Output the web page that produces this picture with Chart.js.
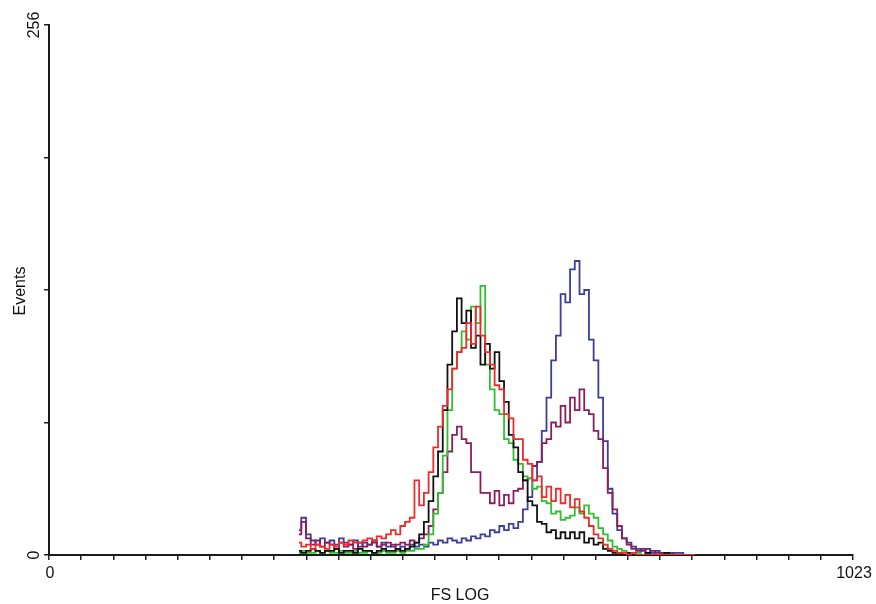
<!DOCTYPE html>
<html>
  <head>
    <title>FS LOG histogram</title>
    <script src="https://cdn.jsdelivr.net/npm/chart.js@4"></script>
    <style>
      body { margin: 0; background: #fff; }
      canvas { display: block; }
    </style>
  </head>
  <body>
    <canvas id="canvas" width="876" height="604"></canvas>
    <script>
      // channel of each bin (FS LOG, 0..1023)
      const channels = [
        318, 324, 330, 336, 342, 348, 354, 360, 366, 372,
        378, 384, 390, 396, 402, 408, 414, 420, 426, 432,
        438, 444, 450, 456, 462, 468, 474, 480, 486, 492,
        498, 504, 510, 516, 522, 528, 534, 540, 546, 552,
        558, 564, 570, 576, 582, 588, 594, 600, 606, 612,
        618, 624, 630, 636, 642, 648, 654, 660, 666, 672,
        678, 684, 690, 696, 702, 708, 714, 720, 726, 732,
        738, 744, 750, 756, 762, 768, 774, 780, 786, 792,
        798, 804, 810, 816, 822
      ];

      const blackEvents = [
        2, 1, 2, 3, 2, 1, 2, 2, 3, 1, 2, 2, 1, 3, 2, 2, 1, 2, 3, 2, 2, 3, 2,
        3, 4, 6, 10, 16, 26, 38, 50, 70, 92,
        108, 124, 112, 118, 100, 106, 92, 102, 90, 98,
        84, 74, 58, 52, 40, 36, 26, 24, 16, 15,
        11, 12, 8, 11, 8, 11, 8, 11, 6, 8,
        5, 6, 3, 2, 1, 1, 0, 1, 0,
        0, 0, 1, 0, 0, 0, 1, 0, 0, 0, 0, 0, 0
      ];
      const redEvents = [
        6, 4, 5, 3, 5, 4, 3, 5, 4, 6, 5, 7, 6, 6,
        7, 8, 7, 9, 8, 10, 12, 10, 14, 16, 18,
        36, 24, 30, 40, 52, 62, 72, 80, 90, 98,
        100, 112, 102, 120, 106, 98, 92, 82, 80, 68,
        66, 56, 56, 46, 44, 36, 38, 28, 33, 26,
        32, 25, 29, 23, 27, 21, 18, 14, 10, 8,
        5, 3, 2, 1, 1, 0, 1, 0, 0, 0,
        0, 0, 0, 0, 0, 0, 0, 0, 0, 0
      ];
      const greenEvents = [
        1, 2, 1, 1, 2, 1, 2, 1, 1, 2, 1, 1, 2, 1, 1, 2, 1, 1, 2, 1, 1, 2, 1, 2, 2, 3,
        3, 5, 10, 20, 30, 48, 70, 90, 98, 108,
        104, 120, 112, 130, 92, 80, 70, 68, 56, 54,
        46, 44, 38, 37, 32, 33, 26, 25, 20, 21,
        17, 18, 19, 23, 20, 24, 20, 18, 13, 10,
        7, 4, 3, 2, 1, 0, 1, 0, 0, 0,
        0, 0, 0, 0, 0, 0, 0, 0, 0
      ];
      const blueEvents = [
        12, 18, 10, 7, 5, 8, 6, 7, 5, 8,
        6, 5, 7, 4, 6, 5, 7, 4, 6, 4,
        5, 3, 4, 3, 5, 4, 5, 4, 6, 5,
        7, 6, 8, 7, 6, 8, 7, 9, 8, 10,
        9, 12, 11, 14, 12, 15, 13, 16, 22, 28,
        36, 45, 60, 76, 94, 106, 126, 122, 138, 142,
        126, 128, 104, 94, 76, 55, 32, 20, 12, 8,
        6, 4, 3, 2, 3, 1, 2, 1, 1, 1,
        1, 1, 0, 0, 0
      ];
      const purpleEvents = [
        10, 16, 8, 5, 7, 4, 6, 5, 3, 6,
        4, 5, 3, 6, 4, 5, 6, 4, 5, 6,
        4, 5, 6, 5, 7, 6, 8, 10, 14, 22,
        30, 40, 50, 58, 62, 56, 54, 40, 40, 30,
        30, 25, 31, 24, 29, 25, 31, 32, 36, 37,
        43, 45, 54, 56, 64, 62, 72, 64, 76, 70,
        80, 70, 68, 60, 56, 42, 30, 22, 14, 8,
        5, 3, 2, 3, 1, 2, 1, 1, 0, 1,
        0, 0, 0, 0, 0
      ];

      const xMax = 1023;
      const yMax = 256;
      const xTickCount = 25; // minor ticks along FS LOG
      const yTickStep = 64;
      const xTickLabels = [0, 1023];
      const yTickLabels = [0, 256];

      const textColor = '#111';
      const fontFamily = '"Liberation Sans", Arial, sans-serif';

      function toPoints(values) {
        return channels.map((c, i) => ({ x: c, y: values[i] }));
      }

      function series(values, color) {
        return {
          data: toPoints(values),
          borderColor: color,
          borderWidth: 1.8,
          pointRadius: 0,
          stepped: 'middle',
          fill: false,
        };
      }

      const labelPlugin = {
        id: 'labels',
        afterDraw(chart) {
          const { ctx } = chart;
          const x = chart.scales.x;
          const y = chart.scales.y;
          ctx.save();
          ctx.fillStyle = textColor;
          ctx.font = '16px ' + fontFamily;
          ctx.textBaseline = 'alphabetic';
          ctx.textAlign = 'center';
          xTickLabels.forEach((v) => {
            ctx.fillText(String(v), x.getPixelForValue(v) + 1, y.bottom + 23);
          });
          yTickLabels.forEach((v) => {
            ctx.save();
            ctx.translate(x.left - 10, y.getPixelForValue(v));
            ctx.rotate(-Math.PI / 2);
            ctx.fillText(String(v), 0, 0);
            ctx.restore();
          });
          // axis titles
          ctx.save();
          ctx.translate(25, (y.top + y.bottom) / 2 + 1);
          ctx.rotate(-Math.PI / 2);
          ctx.fillText('Events', 0, 0);
          ctx.restore();
          ctx.fillText('FS LOG', 460, 600);
          ctx.restore();
        },
      };

      window.onload = () => {
        const ctx = document.getElementById('canvas').getContext('2d');
        new Chart(ctx, {
          type: 'line',
          data: {
            datasets: [
              series(redEvents, '#ee2b2b'),
              series(blackEvents, '#111111'),
              series(greenEvents, '#2fc02f'),
              series(purpleEvents, '#8c1d5c'),
              series(blueEvents, '#3d3d9e'),
            ],
          },
          options: {
            responsive: false,
            animation: false,
            layout: { padding: { top: 25, right: 23, left: 0, bottom: 0 } },
            plugins: {
              legend: { display: false },
              tooltip: { enabled: false },
            },
            scales: {
              x: {
                type: 'linear',
                min: 0,
                max: xMax,
                z: 1,
                ticks: { display: false },
                afterBuildTicks(scale) {
                  const t = [];
                  for (let i = 0; i <= xTickCount; i++) t.push({ value: (i * xMax) / xTickCount });
                  scale.ticks = t;
                },
                afterFit(scale) {
                  scale.height = 49;
                },
                grid: {
                  drawOnChartArea: false,
                  drawTicks: true,
                  tickLength: 5,
                  color: '#222',
                  lineWidth: 1.5,
                },
                border: { display: true, color: '#1a1a1a', width: 2 },
              },
              y: {
                min: 0,
                max: yMax,
                z: 1,
                ticks: { display: false, stepSize: yTickStep },
                afterFit(scale) {
                  scale.width = 49;
                },
                grid: {
                  drawOnChartArea: false,
                  drawTicks: true,
                  tickLength: 5,
                  color: '#222',
                  lineWidth: 1.5,
                },
                border: { display: true, color: '#1a1a1a', width: 2 },
              },
            },
          },
          plugins: [labelPlugin],
        });
      };
    </script>
  </body>
</html>
